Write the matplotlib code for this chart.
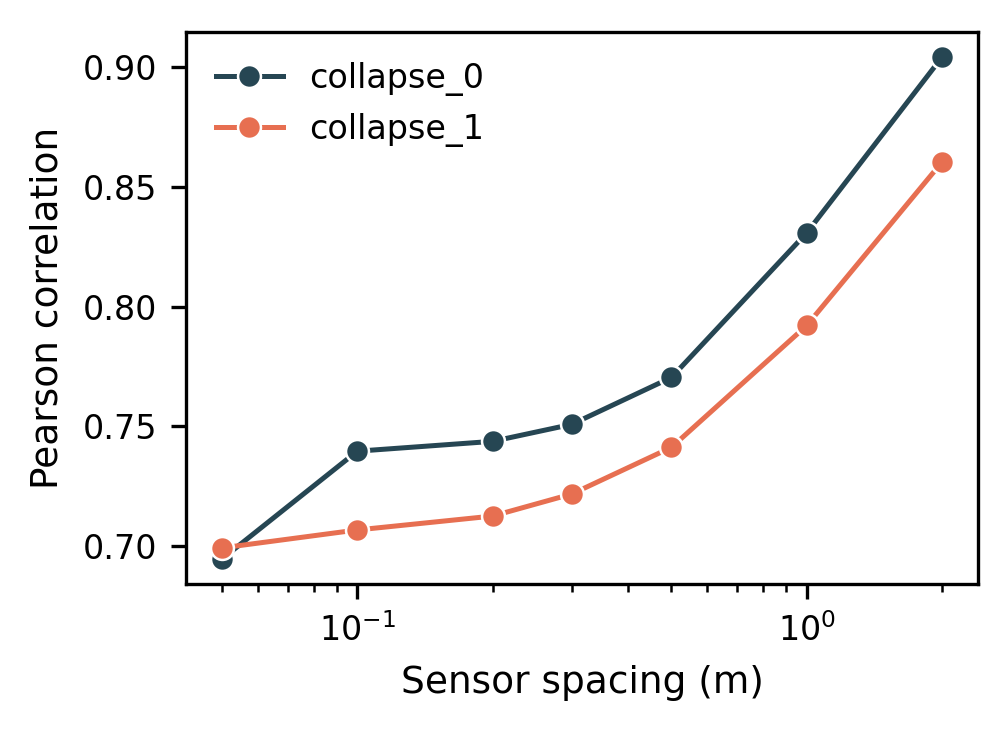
import matplotlib
matplotlib.use("Agg")
from matplotlib import pyplot as plt

spacing = [0.05, 0.1, 0.2, 0.3, 0.5, 1.0, 2.0]
collapse_0 = [0.6946, 0.7396, 0.7437, 0.7508, 0.7704, 0.8308, 0.9042]
collapse_1 = [0.6992, 0.7067, 0.7125, 0.7217, 0.7412, 0.7921, 0.8604]

series = {"collapse_0": (collapse_0, "#264653"),
          "collapse_1": (collapse_1, "#E76F51")}

plt.rcParams['font.family'] = ['DejaVu Sans']
fig = plt.figure(figsize=[1006 / 300, 731 / 300], dpi=300)
ax = fig.add_axes([0.1849, 0.2011, 0.7873, 0.7551])

for name, (vals, color) in series.items():
    ax.plot(spacing, vals, marker='o', markersize=5.5, markeredgecolor='white',
            markeredgewidth=0.6, linewidth=1.2, color=color, label=name)

ax.set_xscale('log')
ax.set_yticks([0.70, 0.75, 0.80, 0.85, 0.90])
ax.tick_params(labelsize=8, width=0.8, length=3.5)
ax.tick_params(which='minor', width=0.6, length=2)
for sp in ax.spines.values():
    sp.set_linewidth(0.8)
ax.set_xlabel("Sensor spacing (m)", fontsize=9)
ax.set_ylabel("Pearson correlation", fontsize=9)
ax.legend(frameon=False, fontsize=8, loc='upper left')

fig.savefig("out.png", dpi=300)
